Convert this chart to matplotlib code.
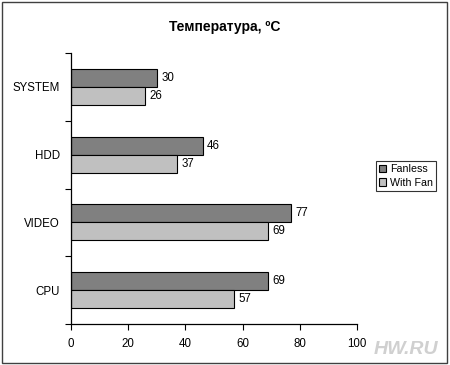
import matplotlib
matplotlib.use('Agg')
import matplotlib.pyplot as plt
import numpy as np

plt.rcParams['font.family'] = ['Liberation Sans', 'DejaVu Sans']

categories = ['SYSTEM', 'HDD', 'VIDEO', 'CPU']
fanless = [30, 46, 77, 69]
with_fan = [26, 37, 69, 57]
xticks = [0, 20, 40, 60, 80, 100]

fig = plt.figure(figsize=(4.5, 3.65), dpi=100)
ax = fig.add_axes([0.158, 0.112, 0.635, 0.743])

y = np.arange(len(categories))
h = 0.265
b1 = ax.barh(y - h / 2, fanless, height=h, color='#808080', edgecolor='black', linewidth=0.8, label='Fanless')
b2 = ax.barh(y + h / 2, with_fan, height=h, color='#c0c0c0', edgecolor='black', linewidth=0.8, label='With Fan')

for yy, v in zip(y - h / 2, fanless):
    ax.text(v + 1.5, yy, str(v), va='center', ha='left', fontsize=8.3)
for yy, v in zip(y + h / 2, with_fan):
    ax.text(v + 1.5, yy, str(v), va='center', ha='left', fontsize=8.3)

ax.set_xlim(0, 100)
ax.set_ylim(3.5, -0.5)
ax.set_xticks(xticks)
ax.set_yticks(y)
ax.set_yticklabels(categories)
ax.set_yticks(np.arange(-0.5, 4, 1), minor=True)
ax.tick_params(axis='y', which='major', length=0, pad=8, labelsize=8.3)
ax.tick_params(axis='y', which='minor', length=4, width=0.8)
ax.tick_params(axis='x', length=4, width=0.8, labelsize=8.3, pad=6)
ax.spines['top'].set_visible(False)
ax.spines['right'].set_visible(False)
ax.spines['left'].set_linewidth(0.9)
ax.spines['bottom'].set_linewidth(0.9)

fig.text(0.5, 0.925, 'Температура, ºC', ha='center', va='center', fontsize=10, fontweight='bold')

leg = fig.legend(handles=[b1, b2], loc='center left', bbox_to_anchor=(0.835, 0.518),
                 fontsize=7.7, frameon=True, fancybox=False, edgecolor='black',
                 handlelength=0.7, handleheight=0.7, handletextpad=0.3,
                 borderpad=0.3, labelspacing=0.35, borderaxespad=0)
leg.get_frame().set_linewidth(0.8)

# watermark
fig.text(0.975, 0.02, 'HW.RU', ha='right', va='bottom', fontsize=14, fontweight='bold',
         style='italic', color='#d0d0d0')

# outer frame
fig.patches.append(plt.Rectangle((0.004, 0.006), 0.99, 0.988, transform=fig.transFigure,
                                 fill=False, edgecolor='#404040', linewidth=1))

fig.savefig('out.png', dpi=100)
